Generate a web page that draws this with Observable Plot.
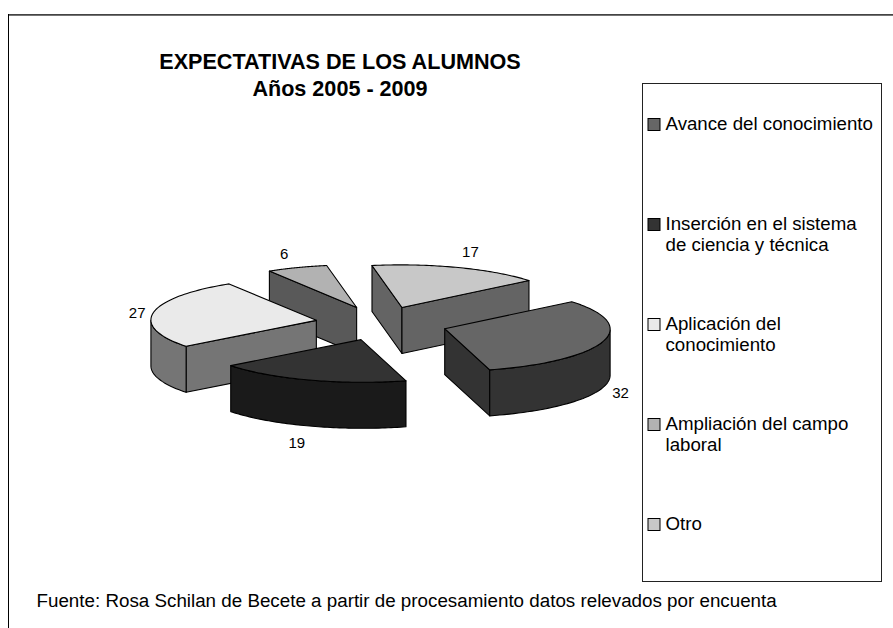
<!DOCTYPE html>
<html><head><meta charset="utf-8">
<script src="https://cdn.jsdelivr.net/npm/d3@7"></script>
<script src="https://cdn.jsdelivr.net/npm/@observablehq/plot@0.6"></script>
<style>html,body{margin:0;padding:0;background:#fff}svg{display:block}</style>
</head><body><div id="chart"></div>
<script>
const categories = ["Avance del conocimiento","Inserción en el sistema\nde ciencia y técnica","Aplicación del\nconocimiento","Ampliación del campo\nlaboral","Otro"];
const values = [32,19,27,6,17];
const topColors = ["#666666","#333333","#eaeaea","#b2b2b2","#c8c8c8"];
const titleLines = ["EXPECTATIVAS DE LOS ALUMNOS","Años 2005 - 2009"];
const captionText = "Fuente: Rosa Schilan de Becete a partir de procesamiento datos relevados por encuenta";

const W = 893, H = 628, FONT = "Liberation Sans, Arial, sans-serif";
// projection of the tilted pie onto the page
const centre = [381, 323], axisA = [127, -27], axisB = [106, 33], depth = 46, explode = 0.4;
const nudgeX = [0, 0, 0, -1, -2];
const legendBox = {x1: 642.5, x2: 881.5, y1: 83.5, y2: 581.5};
const legendRows = [124.5, 224.5, 324.5, 424.5, 524.5];
const labelK = [1.1, 1.25, 1.1, 1.25, 1.2];
const labelShift = [[2, 4], [0, 7], [0, 1], [2, -3], [1, -7]];

const total = d3.sum(values);
const vec = (p) => [axisA[0]*Math.cos(p)+axisB[0]*Math.sin(p), axisA[1]*Math.cos(p)+axisB[1]*Math.sin(p)];
let acc = 0;
const slices = values.map((v, i) => {
  const p0 = acc/total*2*Math.PI; acc += v; const p1 = acc/total*2*Math.PI;
  const mid = vec((p0+p1)/2);
  const c = d3.rgb(topColors[i]);
  return {i, v, p0, p1, mid, apex: [centre[0]+explode*mid[0]+nudgeX[i], centre[1]+explode*mid[1]],
          top: topColors[i], side: d3.rgb(c.r/2, c.g/2, c.b/2).formatHex()};
});
const order = [...slices].sort((a,b) => a.mid[1]-b.mid[1]);

const faces = [];
const addFace = (pts, fill) => { const id = faces.length; pts.forEach(p => faces.push({id, x:p[0], y:p[1], fill})); };
const down = (p) => [p[0], p[1]+depth];
for (const s of order) {
  const at = (p) => { const v = vec(p); return [s.apex[0]+v[0], s.apex[1]+v[1]]; };
  const N = 64, arc = d3.range(N+1).map(k => s.p0+(s.p1-s.p0)*k/N);
  const first = at(s.p0), last = at(s.p1);
  if (first[0] < s.apex[0]) addFace([s.apex, first, down(first), down(s.apex)], s.side);
  if (last[0] > s.apex[0]) addFace([s.apex, last, down(last), down(s.apex)], s.side);
  const visible = arc.filter(p => -axisA[0]*Math.sin(p)+axisB[0]*Math.cos(p) < 0);
  if (visible.length > 1) {
    const upper = visible.map(at);
    addFace([...upper, ...upper.map(down).reverse()], s.side);
  }
  addFace([s.apex, ...arc.map(at)], s.top);
}

const labels = slices.map((s, i) => {
  const front = s.mid[1] > 0 && i < 2;
  return {text: String(s.v),
    x: s.apex[0]+labelK[i]*s.mid[0]+labelShift[i][0],
    y: s.apex[1]+labelK[i]*s.mid[1]+(front?depth:0)+labelShift[i][1]};
});
const legend = categories.map((c, i) => ({c, y: legendRows[i], fill: topColors[i]}));

const plot = Plot.plot({
  width: W, height: H, margin: 0,
  style: {background: "#fff", fontFamily: FONT},
  x: {domain: [0, W], range: [0, W], axis: null},
  y: {domain: [0, H], range: [0, H], axis: null},
  color: {type: "identity"},
  marks: [
    Plot.ruleY([14.4], {x1: 8, x2: W, stroke: "#444", strokeWidth: 1.6}),
    Plot.ruleX([8], {y1: 14, y2: H, stroke: "#000", strokeWidth: 1}),
    Plot.rect([legendBox], {x1:"x1", x2:"x2", y1:"y1", y2:"y2", fill:"#fff", stroke:"#222", strokeWidth:1}),
    Plot.line(faces, {x:"x", y:"y", z:"id", fill:"fill", stroke:"#000", strokeWidth:1.1, curve:"linear-closed", strokeLinejoin:"round"}),
    Plot.text(labels, {x:"x", y:"y", text:"text", fontSize:15, fill:"#000"}),
    Plot.text(titleLines, {x:()=>339.5, y:(d,i)=>61.3+i*27, text:d=>d, fontSize:21.6, fontWeight:"bold", fill:"#000"}),
    Plot.rect(legend, {x1:()=>648, x2:()=>660, y1:d=>d.y-6, y2:d=>d.y+6, fill:"fill", stroke:"#000", strokeWidth:1}),
    Plot.text(legend, {x:()=>665, y:"y", text:"c", textAnchor:"start", lineAnchor:"top", dy:-9.5, lineHeight:1.123, fontSize:18.7, fill:"#000"}),
    Plot.text([captionText], {x:()=>36, y:()=>600, text:d=>d, textAnchor:"start", fontSize:18.8, fill:"#000"})
  ]
});
document.getElementById("chart").append(plot);
</script></body></html>
